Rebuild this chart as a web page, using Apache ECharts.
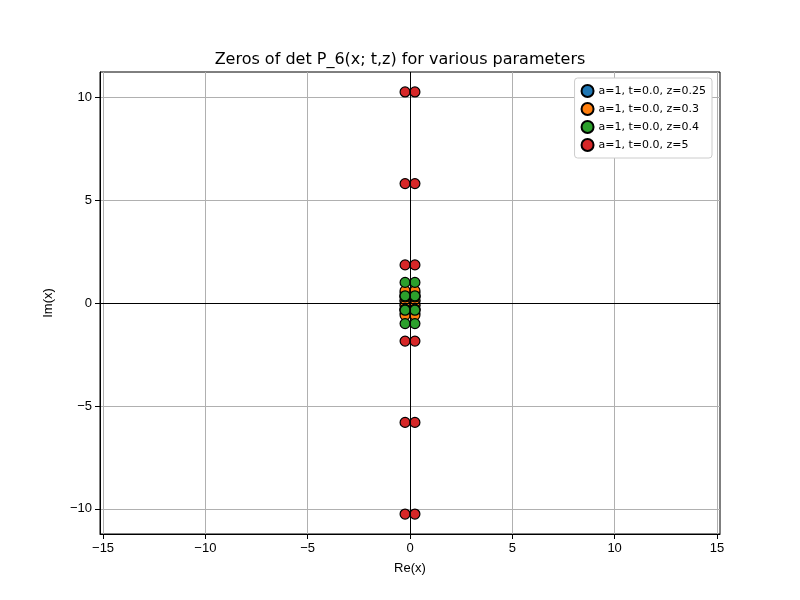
<!DOCTYPE html><html><head><script src="https://cdn.jsdelivr.net/npm/echarts@6/dist/echarts.min.js"></script></head><body style="margin:0"><div id="c" style="width:800px;height:600px"></div><script>
const names=['a=1, t=0.0, z=0.25','a=1, t=0.0, z=0.3','a=1, t=0.0, z=0.4','a=1, t=0.0, z=5'];
const colors=['#1f77b4','#ff7f0e','#2ca02c','#d62728'];
const reParts=[-0.24,0.24];
const imBlue=[0.1,0.3,0.5,-0.1,-0.3,-0.5];
const imOrange=[0.12,0.35,0.6,-0.12,-0.35,-0.6];
const imGreen=[0.3,0.35,1.0,-0.3,-0.35,-1.0];
const imRed=[1.85,5.8,10.25,-1.85,-5.8,-10.25];
const ims=[imBlue,imOrange,imGreen,imRed];
const xTicks=[-15,-10,-5,0,5,10,15];
const c=echarts.init(document.getElementById('c'));
c.setOption({animation:false,
title:{text:'Zeros of det P_6(x; t,z) for various parameters',left:'center',top:47,textStyle:{fontSize:16,fontWeight:'normal',color:'#000',fontFamily:'DejaVu Sans'}},
grid:{left:100,right:80,top:72,bottom:66,show:true,borderColor:'#000',borderWidth:1},
legend:{right:88,top:78,orient:'vertical',itemGap:4,itemWidth:12,itemHeight:12,backgroundColor:'#fff',borderColor:'#ccc',borderWidth:1,borderRadius:3,padding:[6,6],textStyle:{fontSize:11,color:'#000',fontFamily:'DejaVu Sans'},data:names.map(n=>({name:n,icon:'circle'}))},
xAxis:{type:'value',min:-15.15,max:15.15,interval:5,name:'Re(x)',nameLocation:'middle',nameGap:28,nameTextStyle:{fontSize:13,color:'#000'},
axisLabel:{customValues:xTicks,fontSize:13,color:'#000',formatter:v=>String(v).replace('-','−')},axisTick:{customValues:xTicks,inside:false,lineStyle:{color:'#000'}},
splitLine:{show:true,lineStyle:{color:'#b0b0b0'}},axisLine:{onZero:false,lineStyle:{color:'#000'}}},
yAxis:{type:'value',min:-11.22,max:11.22,name:'Im(x)',nameLocation:'middle',nameGap:45,nameTextStyle:{fontSize:13,color:'#000'},
axisLabel:{customValues:[-10,-5,0,5,10],fontSize:13,color:'#000',formatter:v=>String(v).replace('-','−')},axisTick:{customValues:[-10,-5,0,5,10],lineStyle:{color:'#000'}},
splitLine:{show:true,lineStyle:{color:'#b0b0b0'}},axisLine:{onZero:false,lineStyle:{color:'#000'}}},
series:names.map((n,i)=>({name:n,type:'scatter',symbolSize:10,itemStyle:{color:colors[i],opacity:1,borderColor:'#000',borderWidth:1.2},
data:ims[i].flatMap(y=>reParts.map(x=>[x,y])),
markLine:i===0?{silent:true,symbol:'none',label:{show:false},lineStyle:{color:'#000',width:1,type:'solid'},data:[{xAxis:0},{yAxis:0}]}:undefined}))
});
</script></body></html>
